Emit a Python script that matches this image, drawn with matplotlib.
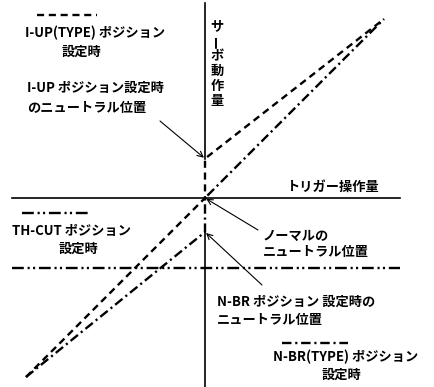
import numpy as np
import matplotlib
matplotlib.use("agg")
import matplotlib.pyplot as plt

plt.rcParams['font.family'] = ['Noto Sans CJK JP', 'DejaVu Sans']

# ------------------- data (trigger vs servo, origin = neutral) -------------------
trigger = [-100, 0, 0, 100]
servo_iup_type = [-100, 0, 22, 100]     # I-UP(TYPE): dashed
servo_nbr_type = [-100, -19, 0, 100]    # N-BR(TYPE): dash-dot
th_cut_level = -39                      # TH-CUT: dash-dot-dot
axis_x = [-108, 109]
axis_y = [-106, 109]

S = 1.79  # pixels per unit


def px(x, y):
    # pixel position of the reference -> data units
    return (x - 205) / S, (198 - y) / S


fig = plt.figure(figsize=(4.35, 3.87), dpi=100)
ax = fig.add_axes([0, 0, 1, 1])
ax.set_xlim(-205 / S, 230 / S)
ax.set_ylim(-189 / S, 198 / S)
ax.axis("off")

dashed = (0, (3.0, 2.0))
dashdot = (0, (4.0, 1.6, 0.9, 1.6))
dashdotdot = (0, (5.0, 1.6, 0.9, 1.4, 0.9, 1.6))

# axes
ax.plot(axis_x, [0, 0], color="black", lw=1.2)
ax.plot([0, 0], [servo_iup_type[2], axis_y[1]], color="black", lw=1.2)
ax.plot([0, 0], [axis_y[0], servo_nbr_type[1]], color="black", lw=1.2)

# curves
ax.plot(trigger, servo_iup_type, color="black", lw=1.7, ls=dashed)
ax.plot(trigger, servo_nbr_type, color="black", lw=1.7, ls=dashdot)
ax.plot(axis_x, [th_cut_level, th_cut_level], color="black", lw=1.7, ls=dashdotdot)

# legend swatches
for (x0, x1, y), ls in [((37, 97, 15), dashed), ((22, 88, 213), dashdotdot),
                        ((282, 348, 343), dashdot)]:
    a = px(x0, y)
    b = px(x1, y)
    ax.plot([a[0], b[0]], [a[1], b[1]], color="black", lw=1.7, ls=ls)

fs = 9.5
txt = dict(fontsize=fs, color="black", va="center", fontweight="bold")


def label(x, y, s, ha="left"):
    ax.text(*px(x, y), s, ha=ha, **txt)


label(25, 33, "I-UP(TYPE) ポジション")
label(81, 52, "設定時", ha="center")
label(27, 88, "I-UP ポジション設定時")
label(27, 108, "のニュートラル位置")
label(287, 187, "トリガー操作量")
label(263, 236, "ノーマルの")
label(263, 252, "ニュートラル位置")
label(12, 231, "TH-CUT ポジション")
label(78, 249, "設定時", ha="center")
label(217, 302, "N-BR ポジション 設定時の")
label(217, 320, "ニュートラル位置")
label(273, 357, "N-BR(TYPE) ポジション")
label(342, 375, "設定時", ha="center")

# vertical axis title
for i, ch in enumerate("サーボ動作量"):
    ax.text(*px(217, 26 + i * 15), ch, ha="center", fontsize=fs, fontweight="bold",
            rotation=90 if ch == "ー" else 0, va="center")

# arrows
arrow = dict(arrowstyle="->", color="black", lw=0.8, shrinkA=0, shrinkB=1)
ax.annotate("", xy=(0, servo_iup_type[2]), xytext=px(160, 121), arrowprops=arrow)
ax.annotate("", xy=(0, 0), xytext=px(258, 230), arrowprops=arrow)
ax.annotate("", xy=(0, servo_nbr_type[1]), xytext=px(262, 285), arrowprops=arrow)

plt.savefig("out.png", dpi=100)
